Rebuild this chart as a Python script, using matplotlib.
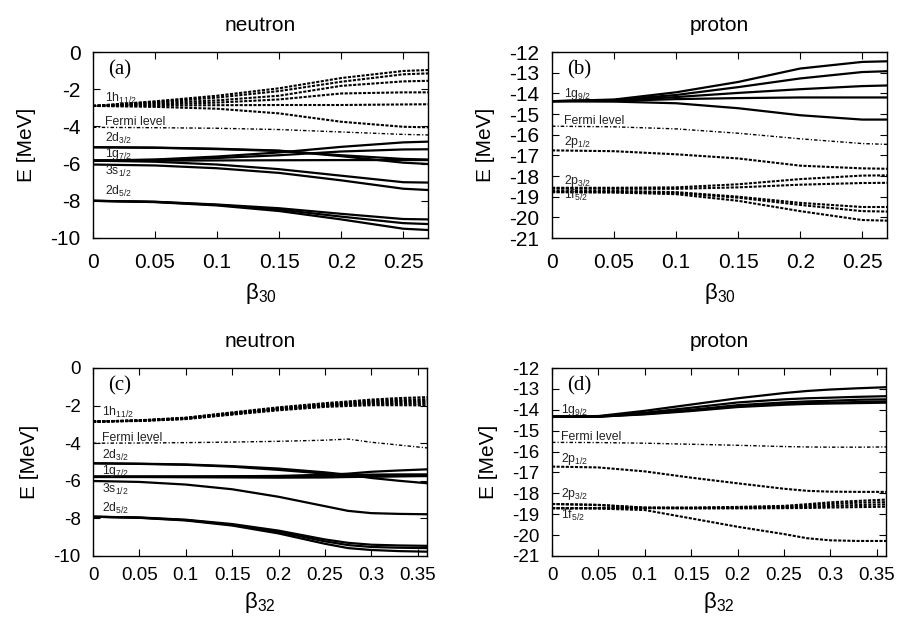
import matplotlib
matplotlib.use('Agg')
import matplotlib.pyplot as plt

plt.rcParams['font.family'] = ['Liberation Sans', 'DejaVu Sans']
plt.rcParams['mathtext.default'] = 'regular'
plt.rcParams['axes.unicode_minus'] = False

# deformation grids
b30 = [0, 0.05, 0.1, 0.15, 0.2, 0.25, 0.27]
b32 = [0, 0.05, 0.1, 0.15, 0.2, 0.25, 0.275, 0.3, 0.33, 0.36]

# (a) neutron, beta30
a_dash = [
    [-2.9, -2.65, -2.35, -1.95, -1.4, -1.02, -0.97],
    [-2.9, -2.7, -2.45, -2.1, -1.6, -1.2, -1.15],
    [-2.9, -2.75, -2.6, -2.35, -1.82, -1.58, -1.55],
    [-2.9, -2.82, -2.72, -2.55, -2.23, -2.17, -2.17],
    [-2.9, -2.88, -2.86, -2.85, -2.85, -2.82, -2.81],
    [-2.9, -2.95, -3.05, -3.3, -3.75, -4.02, -4.05],
]
a_fermi = [-4.05, -4.07, -4.1, -4.17, -4.3, -4.43, -4.46]
a_solid = [
    [-5.12, -5.15, -5.22, -5.32, -5.55, -5.75, -5.78],
    [-5.12, -5.14, -5.2, -5.3, -5.6, -5.95, -6.02],
    [-5.84, -5.78, -5.62, -5.4, -5.1, -4.86, -4.82],
    [-5.84, -5.8, -5.7, -5.55, -5.35, -5.24, -5.23],
    [-5.84, -5.84, -5.83, -5.82, -5.81, -5.81, -5.81],
    [-5.84, -5.9, -6.05, -6.3, -6.65, -7.0, -7.02],
    [-6.05, -6.1, -6.25, -6.5, -6.9, -7.35, -7.42],
    [-8.0, -8.05, -8.2, -8.4, -8.7, -8.98, -9.0],
    [-8.0, -8.06, -8.22, -8.47, -8.85, -9.2, -9.25],
    [-8.0, -8.07, -8.25, -8.55, -9.0, -9.5, -9.57],
]

# (b) proton, beta30
b_solid = [
    [-14.38, -14.3, -13.95, -13.45, -12.8, -12.48, -12.45],
    [-14.38, -14.32, -14.08, -13.7, -13.28, -12.97, -12.93],
    [-14.38, -14.35, -14.18, -13.98, -13.8, -13.65, -13.62],
    [-14.38, -14.37, -14.28, -14.23, -14.2, -14.2, -14.2],
    [-14.38, -14.4, -14.48, -14.72, -15.06, -15.27, -15.27],
]
b_fermi = [-15.59, -15.62, -15.72, -15.93, -16.2, -16.43, -16.47]
b_dash = [
    [-16.76, -16.8, -16.95, -17.15, -17.5, -17.63, -17.65],
    [-18.57, -18.57, -18.55, -18.4, -18.15, -17.98, -17.97],
    [-18.6, -18.62, -18.62, -18.55, -18.42, -18.34, -18.33],
    [-18.7, -18.72, -18.78, -19.0, -19.3, -19.5, -19.5],
    [-18.78, -18.78, -18.82, -19.05, -19.4, -19.7, -19.72],
    [-18.78, -18.8, -18.88, -19.2, -19.7, -20.13, -20.16],
]

# (c) neutron, beta32
c_dash = [
    [-2.85, -2.78, -2.64, -2.36, -2.09, -1.87, -1.78, -1.68, -1.6, -1.55],
    [-2.85, -2.79, -2.66, -2.39, -2.13, -1.92, -1.84, -1.75, -1.69, -1.66],
    [-2.85, -2.8, -2.67, -2.41, -2.16, -1.95, -1.88, -1.8, -1.76, -1.74],
    [-2.85, -2.8, -2.69, -2.43, -2.18, -1.99, -1.92, -1.86, -1.83, -1.82],
    [-2.85, -2.81, -2.7, -2.45, -2.21, -2.02, -1.96, -1.91, -1.9, -1.9],
    [-2.85, -2.82, -2.72, -2.48, -2.25, -2.07, -2.02, -1.98, -1.98, -1.99],
]
c_fermi = [-4.0, -3.99, -3.97, -3.94, -3.9, -3.84, -3.78, -3.95, -4.1, -4.25]
c_solid = [
    [-5.07, -5.09, -5.13, -5.22, -5.35, -5.55, -5.68, -5.85, -6.0, -6.13],
    [-5.07, -5.1, -5.15, -5.25, -5.42, -5.62, -5.68, -5.7, -5.7, -5.7],
    [-5.78, -5.78, -5.77, -5.76, -5.74, -5.68, -5.62, -5.52, -5.45, -5.39],
    [-5.78, -5.78, -5.78, -5.77, -5.76, -5.73, -5.7, -5.67, -5.66, -5.66],
    [-5.78, -5.78, -5.79, -5.79, -5.8, -5.8, -5.79, -5.77, -5.75, -5.73],
    [-5.8, -5.8, -5.81, -5.82, -5.83, -5.82, -5.8, -5.78, -5.76, -5.75],
    [-6.01, -6.06, -6.2, -6.45, -6.85, -7.35, -7.6, -7.72, -7.76, -7.78],
    [-7.91, -7.95, -8.07, -8.3, -8.65, -9.12, -9.3, -9.4, -9.44, -9.46],
    [-7.91, -7.96, -8.09, -8.34, -8.72, -9.22, -9.42, -9.52, -9.56, -9.58],
    [-7.91, -7.97, -8.11, -8.38, -8.8, -9.35, -9.58, -9.68, -9.74, -9.77],
]

# (d) proton, beta32
d_solid = [
    [-14.33, -14.3, -14.05, -13.75, -13.45, -13.2, -13.1, -13.03, -12.97, -12.92],
    [-14.33, -14.32, -14.14, -13.9, -13.65, -13.5, -13.45, -13.42, -13.38, -13.35],
    [-14.33, -14.32, -14.18, -14.0, -13.78, -13.65, -13.6, -13.57, -13.52, -13.5],
    [-14.33, -14.33, -14.2, -14.03, -13.83, -13.72, -13.68, -13.66, -13.63, -13.6],
    [-14.33, -14.33, -14.22, -14.06, -13.87, -13.76, -13.72, -13.7, -13.68, -13.66],
]
d_fermi = [-15.56, -15.57, -15.6, -15.65, -15.7, -15.76, -15.78, -15.79, -15.79, -15.78]
d_dash = [
    [-16.72, -16.76, -16.95, -17.25, -17.52, -17.78, -17.88, -17.92, -17.93, -17.93],
    [-18.71, -18.73, -18.8, -19.2, -19.6, -19.95, -20.15, -20.25, -20.28, -20.28],
    [-18.51, -18.55, -18.68, -18.68, -18.65, -18.6, -18.52, -18.43, -18.36, -18.3],
    [-18.51, -18.56, -18.69, -18.7, -18.68, -18.64, -18.58, -18.51, -18.45, -18.42],
    [-18.71, -18.7, -18.7, -18.71, -18.7, -18.68, -18.65, -18.6, -18.56, -18.53],
    [-18.71, -18.71, -18.71, -18.72, -18.72, -18.71, -18.7, -18.68, -18.66, -18.64],
]

neutron_labels = ['1h$_{11/2}$', 'Fermi level', '2d$_{3/2}$', '1g$_{7/2}$', '3s$_{1/2}$', '2d$_{5/2}$']
proton_labels = ['1g$_{9/2}$', 'Fermi level', '2p$_{1/2}$', '2p$_{3/2}$', '1f$_{5/2}$']
a_label_y = [-2.67, -3.92, -4.85, -5.62, -6.6, -7.69]
b_label_y = [-14.17, -15.5, -16.52, -18.37, -19.1]
c_label_y = [-2.55, -3.88, -4.85, -5.65, -6.67, -7.64]
d_label_y = [-14.17, -15.45, -16.48, -18.16, -19.2]

neutron_yticks = [0, -2, -4, -6, -8, -10]
proton_yticks = [-12, -13, -14, -15, -16, -17, -18, -19, -20, -21]
b30_ticks = [0, 0.05, 0.1, 0.15, 0.2, 0.25]
b32_ticks = [0, 0.05, 0.1, 0.15, 0.2, 0.25, 0.3, 0.35]

fig = plt.figure(figsize=(8.97, 6.21), dpi=100)
W, H = 897, 621


def axes_px(left, top, right, bottom):
    return fig.add_axes([left / W, 1 - bottom / H, (right - left) / W, (bottom - top) / H])


def panel(ax, beta, solid, dash, fermi, xmax, ylim, yticks, xticks,
          labels, label_y, tag, title, xlabel, fs, xpad, xlpad):
    for e in dash:
        ax.plot(beta, e, color='k', lw=1.5, dashes=(1.5, 0.7))
    ax.plot(beta, fermi, color='k', lw=1.0, dashes=(2.5, 1.5, 0.8, 1.5))
    for e in solid:
        ax.plot(beta, e, color='k', lw=1.6)
    ax.set_xlim(0, xmax)
    ax.set_ylim(*ylim)
    ax.set_yticks(yticks)
    ax.set_xticks(xticks)
    ax.set_xticklabels([('%g' % t) for t in xticks])
    ax.tick_params(direction='in', top=True, right=True, length=5,
                   labelsize=fs, width=0.8)
    ax.tick_params(axis='x', pad=xpad)
    ax.tick_params(axis='y', pad=9)
    for s in ax.spines.values():
        s.set_linewidth(1.0)
    for lab, y in zip(labels, label_y):
        ax.text(0.01, y, lab, fontsize=8.8, va='baseline', ha='left', color='#222222')
    ax.text(0.045, 0.905, tag, transform=ax.transAxes, fontsize=15,
            family='Liberation Serif', va='center', ha='left')
    ax.set_title(title, fontsize=15, pad=15)
    ax.set_xlabel(xlabel, fontsize=16, labelpad=xlpad)
    ax.set_ylabel('E [MeV]', fontsize=15, labelpad=10)


ax_a = axes_px(93, 52, 428, 238)
ax_b = axes_px(552, 52, 887, 238)
ax_c = axes_px(93, 368, 427, 556)
ax_d = axes_px(552, 368, 886, 556)

panel(ax_a, b30, a_solid, a_dash, a_fermi, 0.27, (-10, 0), neutron_yticks, b30_ticks,
      neutron_labels, a_label_y, '(a)', 'neutron', r'$\beta_{30}$', 15, 11, 6)
panel(ax_b, b30, b_solid, b_dash, b_fermi, 0.27, (-21, -12), proton_yticks, b30_ticks,
      proton_labels, b_label_y, '(b)', 'proton', r'$\beta_{30}$', 15, 11, 6)
panel(ax_c, b32, c_solid, c_dash, c_fermi, 0.36, (-10, 0), neutron_yticks, b32_ticks,
      neutron_labels, c_label_y, '(c)', 'neutron', r'$\beta_{32}$', 13.5, 8, 4)
panel(ax_d, b32, d_solid, d_dash, d_fermi, 0.36, (-21, -12), proton_yticks, b32_ticks,
      proton_labels, d_label_y, '(d)', 'proton', r'$\beta_{32}$', 13.5, 8, 4)

fig.savefig('out.png', dpi=100)
